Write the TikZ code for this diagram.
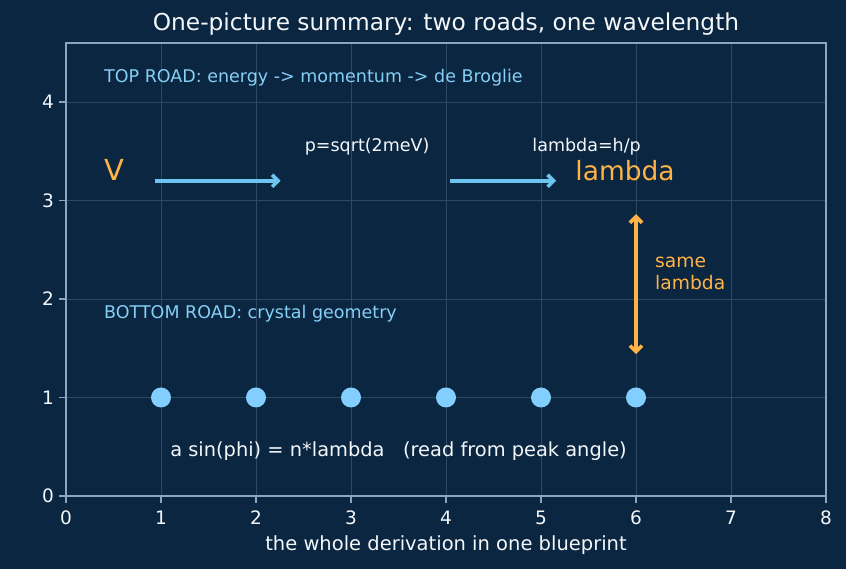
\documentclass[tikz,border=0pt]{standalone}
\usepackage{fontspec}
\setmainfont{DejaVu Sans}
\usetikzlibrary{arrows.meta}
\definecolor{bg}{HTML}{0B2640}
\definecolor{gridc}{HTML}{2C4862}
\definecolor{spinec}{HTML}{8DA5BD}
\definecolor{lblue}{HTML}{86CFF7}
\definecolor{dotc}{HTML}{82CFFF}
\definecolor{arrc}{HTML}{6CC5F0}
\definecolor{orng}{HTML}{FFB347}
\definecolor{wht}{HTML}{F4F7FA}
\tikzset{
  gridline/.style={draw=gridc, line width=0.9pt},
  spine/.style={draw=spinec, line width=1.6pt},
  tickmark/.style={draw=spinec, line width=1.4pt},
  ticklab/.style={text=wht, inner sep=0pt, font=\fontsize{18.5}{22}\selectfont},
  ann/.style={inner sep=0pt, font=\fontsize{17.5}{21}\selectfont},
  bigann/.style={inner sep=0pt, font=\fontsize{19.4}{23}\selectfont},
  bluearrow/.style={draw=arrc, line width=3.6pt, -{Straight Barb[length=6pt,width=12pt]}, shorten <=3.9pt, shorten >=3.9pt},
  orarrow/.style={draw=orng, line width=3.6pt, {Straight Barb[length=6pt,width=12pt]}-{Straight Barb[length=6pt,width=12pt]}, shorten <=3.9pt, shorten >=3.9pt},
  atom/.style={circle, fill=dotc, draw=none, minimum size=20pt, inner sep=0pt}
}
\begin{document}
\begin{tikzpicture}[x=95pt,y=98.5pt]
\fill[bg] (-0.69474,-0.74112) rectangle (8.21053,5.03553);
\useasboundingbox (-0.69474,-0.74112) rectangle (8.21053,5.03553);
% grid
\foreach \i in {1,...,7} \draw[gridline] (\i,0) -- (\i,4.6);
\foreach \j in {1,...,4} \draw[gridline] (0,\j) -- (8,\j);
% axes box
\draw[spine] (0,0) rectangle (8,4.6);
% ticks
\foreach \i in {0,...,8} {
  \draw[tickmark] (\i,0) -- ++(0,-7pt);
  \node[ticklab, anchor=base] (xt\i) at (\i,-0.2944) {\i};
}
\foreach \j in {0,...,4} {
  \draw[tickmark] (0,\j) -- ++(-7pt,0);
  \node[ticklab, anchor=east] (yt\j) at (-0.126,\j) {\j};
}
% title and axis label
\node[text=wht, inner sep=0pt, anchor=base, font=\fontsize{23.3}{28}\selectfont] (title) at (4,4.721) {One-picture summary: two roads, one wavelength};
\node[text=wht, inner sep=0pt, anchor=base, font=\fontsize{19.5}{23}\selectfont] (xlabel) at (4,-0.555) {the whole derivation in one blueprint};
% top road
\node[ann, text=lblue, anchor=base west] (top) at (0.4,4.2) {TOP ROAD: energy -> momentum -> de Broglie};
\node[inner sep=0pt, text=orng, anchor=base west, font=\fontsize{29}{34}\selectfont] (V) at (0.4,3.2) {V};
\coordinate (a1s) at (0.9,3.2);
\coordinate (a1e) at (2.3,3.2);
\draw[bluearrow] (a1s) -- (a1e);
\node[ann, text=wht, anchor=base] (pform) at (3.17,3.5) {p=sqrt(2meV)};
\coordinate (a2s) at (4.0,3.2);
\coordinate (a2e) at (5.2,3.2);
\draw[bluearrow] (a2s) -- (a2e);
\node[ann, text=wht, anchor=base] (lform) at (5.48,3.5) {lambda=h/p};
\node[inner sep=0pt, text=orng, anchor=base west, font=\fontsize{26.5}{31}\selectfont] (lam) at (5.36,3.2) {lambda};
% same lambda
\coordinate (d1) at (6,2.9);
\coordinate (d2) at (6,1.4);
\draw[orarrow] (d2) -- (d1);
\node[inner sep=0pt, text=orng, anchor=west, align=left, font=\fontsize{18.7}{22.3}\selectfont] (same) at (6.2,2.257) {same\\lambda};
% bottom road
\node[ann, text=lblue, anchor=base west] (bottom) at (0.4,1.8) {BOTTOM ROAD: crystal geometry};
\foreach \i in {1,...,6} \node[atom] (atom\i) at (\i,1) {};
\node[bigann, text=wht, anchor=base] (grating) at (3.5,0.4) {a sin(phi) = n*lambda\ \ \ (read from peak angle)};
\end{tikzpicture}
\end{document}
